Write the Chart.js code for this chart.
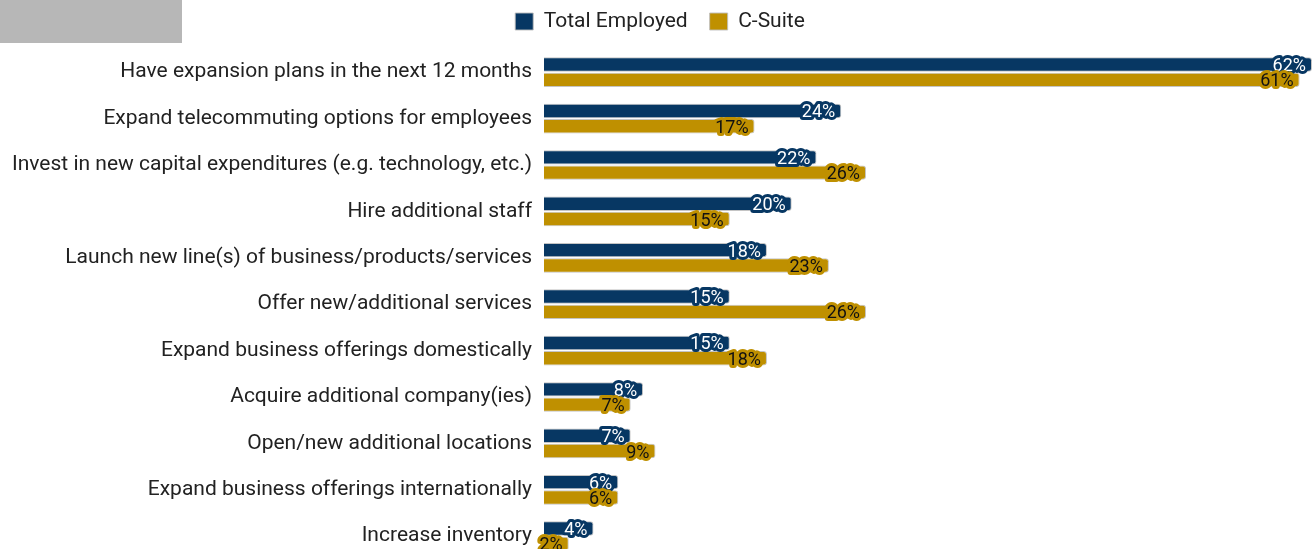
<!DOCTYPE html>
<html>
<head>
<meta charset="utf-8">
<script src="https://cdn.jsdelivr.net/npm/chart.js@4.4.1/dist/chart.umd.min.js"></script>
<style>
  html, body { margin: 0; padding: 0; background: #fff; overflow: hidden; }
  #wrap { position: relative; width: 1312px; height: 549px; overflow: hidden; }
  #chart { position: absolute; left: 0; top: -13px; }
  #tab { position: absolute; left: 0; top: 0; width: 182px; height: 43px; background: #b7b7b7; }
</style>
</head>
<body>
<div id="wrap">
  <canvas id="chart" width="1312" height="589"></canvas>
  <div id="tab"></div>
</div>
<script>
const categories = [
  "Have expansion plans in the next 12 months",
  "Expand telecommuting options for employees",
  "Invest in new capital expenditures (e.g. technology, etc.)",
  "Hire additional staff",
  "Launch new line(s) of business/products/services",
  "Offer new/additional services",
  "Expand business offerings domestically",
  "Acquire additional company(ies)",
  "Open/new additional locations",
  "Expand business offerings internationally",
  "Increase inventory"
];
const totalEmployed = [62, 24, 22, 20, 18, 15, 15, 8, 7, 6, 4];
const cSuite = [61, 17, 26, 15, 23, 26, 18, 7, 9, 6, 2];

const NAVY = "#073763";
const GOLD = "#bf9000";

// value labels at the bar end, with a halo in the bar colour
const barLabels = {
  id: "barLabels",
  afterDatasetsDraw(chart) {
    const ctx = chart.ctx;
    ctx.save();
    ctx.font = "18px Roboto";
    ctx.textAlign = "right";
    ctx.textBaseline = "middle";
    ctx.lineJoin = "round";
    chart.data.datasets.forEach((ds, i) => {
      const meta = chart.getDatasetMeta(i);
      meta.data.forEach((bar, j) => {
        const txt = ds.data[j] + "%";
        const x = bar.x - 6;
        const y = bar.y + 2;
        ctx.lineWidth = 6;
        ctx.strokeStyle = ds.backgroundColor;
        ctx.strokeText(txt, x, y);
        ctx.fillStyle = ds.labelColor;
        ctx.fillText(txt, x, y);
      });
    });
    ctx.restore();
  }
};

// a little more room under the legend, without moving the legend itself
const legendGap = {
  id: "legendGap",
  afterInit(chart) {
    const fit = chart.legend.fit;
    chart.legend.fit = function () {
      fit.call(this);
      this.height += 7;
    };
  }
};

new Chart(document.getElementById("chart"), {
  type: "bar",
  data: {
    labels: categories,
    datasets: [
      {
        label: "Total Employed",
        data: totalEmployed,
        backgroundColor: NAVY,
        labelColor: "#ffffff",
        borderColor: "rgba(190,190,190,0.9)",
        borderWidth: 1,
        borderRadius: 3,
        borderSkipped: "start",
        barPercentage: 0.94,
        categoryPercentage: 0.66
      },
      {
        label: "C-Suite",
        data: cSuite,
        backgroundColor: GOLD,
        labelColor: "#111111",
        borderColor: "rgba(190,190,190,0.9)",
        borderWidth: 1,
        borderRadius: 3,
        borderSkipped: "start",
        barPercentage: 0.94,
        categoryPercentage: 0.66
      }
    ]
  },
  options: {
    indexAxis: "y",
    responsive: false,
    animation: false,
    layout: { padding: { left: 8, right: 0, top: 2, bottom: 0 } },
    plugins: {
      legend: {
        position: "top",
        labels: {
          font: { family: "Roboto", size: 21 },
          color: "#222",
          boxWidth: 18,
          boxHeight: 17,
          padding: 22
        }
      },
      tooltip: { enabled: false }
    },
    scales: {
      x: {
        display: false,
        min: 0,
        max: 62
      },
      y: {
        grid: { display: false },
        border: { display: false },
        ticks: {
          font: { family: "Roboto", size: 21 },
          color: "#222",
          padding: 4
        }
      }
    }
  },
  plugins: [barLabels, legendGap]
});
</script>
</body>
</html>
